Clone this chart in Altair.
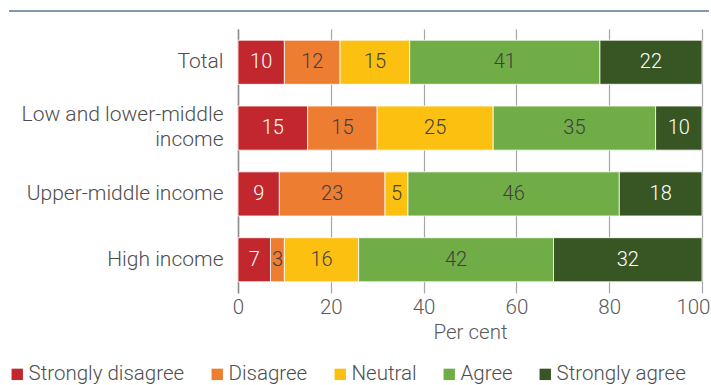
import altair as alt
import pandas as pd

groups = ["Total", "Low and lower-middle income", "Upper-middle income", "High income"]
responses = ["Strongly disagree", "Disagree", "Neutral", "Agree", "Strongly agree"]
colors = ["#c1272d", "#ed7d31", "#fcc010", "#70ad47", "#375623"]
text_colors = ["#ffffff", "#404040", "#404040", "#404040", "#ffffff"]
values = {
    "Total": [10, 12, 15, 41, 22],
    "Low and lower-middle income": [15, 15, 25, 35, 10],
    "Upper-middle income": [9, 23, 5, 46, 18],
    "High income": [7, 3, 16, 42, 32],
}
x_ticks = [0, 20, 40, 60, 80, 100]

rows = []
for g in groups:
    for i, r in enumerate(responses):
        rows.append({"group": g, "response": r, "value": values[g][i], "order": i,
                     "tcolor": text_colors[i]})
df = pd.DataFrame(rows)
df["pct"] = df["value"] / df.groupby("group")["value"].transform("sum") * 100
df["end"] = df.groupby("group")["pct"].cumsum()
df["start"] = df["end"] - df["pct"]
df["mid"] = (df["start"] + df["end"]) / 2

FONT = "Roboto"
W = 300

y_enc = alt.Y("group:N", sort=groups, title=None,
              scale=alt.Scale(paddingInner=0.33, paddingOuter=0.17),
              axis=alt.Axis(labelFontSize=21, labelColor="#4d4d4d", labelFont=FONT,
                            labelFontWeight=W,
                            labelExpr="split(replace(datum.label, 'lower-middle income', 'lower-middle|income'), '|')",
                            labelLineHeight=25, ticks=False, labelPadding=15, labelLimit=400,
                            labelOffset={"condition": {"test": "datum.value == 'Low and lower-middle income'",
                                                       "value": -13}, "value": 0},
                            domainColor="#8c8c8c", domainWidth=1.5))

x_scale = alt.Scale(domain=[0, 100], nice=False)

bars = alt.Chart(df).mark_bar(stroke="#ffffff", strokeWidth=0.8).encode(
    y=y_enc,
    x=alt.X("start:Q", scale=x_scale, title="Per cent",
            axis=alt.Axis(values=x_ticks, labelFontSize=20.5, labelColor="#595959",
                          labelFont=FONT, labelFontWeight=W, titleFont=FONT, titleFontSize=20.5,
                          titleFontWeight=W, titleColor="#595959",
                          grid=True, gridColor="#a6a6a6", gridWidth=1.2,
                          domain=False, ticks=False,
                          labelAlign={"condition": {"test": "datum.value == 100", "value": "right"},
                                      "value": "center"},
                          labelOffset={"condition": {"test": "datum.value == 100", "value": 8},
                                       "value": 0},
                          labelFlush=False, labelPadding=4, titlePadding=5)),
    x2="end:Q",
    color=alt.Color("response:N", sort=responses,
                    scale=alt.Scale(domain=responses, range=colors),
                    legend=alt.Legend(title=None, orient="none", legendX=-231, legendY=335,
                                      direction="horizontal", symbolType="square",
                                      symbolSize=130, symbolStrokeWidth=0, padding=0,
                                      labelFontSize=20.5, labelFont=FONT, labelFontWeight=W,
                                      labelColor="#4d4d4d", labelLimit=300,
                                      columnPadding=22, symbolOffset=0, labelOffset=1)),
    order=alt.Order("order:Q"),
)

labels = alt.Chart(df).mark_text(fontSize=20, font=FONT, fontWeight=W).encode(
    y=alt.Y("group:N", sort=groups),
    x=alt.X("mid:Q", scale=x_scale),
    text=alt.Text("value:Q"),
    color=alt.Color("tcolor:N", scale=None),
)

top_line = alt.Chart(df).mark_rule(color="#8497b0", strokeWidth=2).encode(
    x=alt.value(-229), x2=alt.value(471), y=alt.value(-18))

chart = alt.layer(bars, labels, top_line).properties(
    width=464, height=264,
    autosize=alt.AutoSizeParams(type="none"),
    padding={"left": 238, "top": 29, "right": 9, "bottom": 92},
).configure_view(stroke=None)

chart.save("out.html", embed_options={"renderer": "svg", "actions": False})
